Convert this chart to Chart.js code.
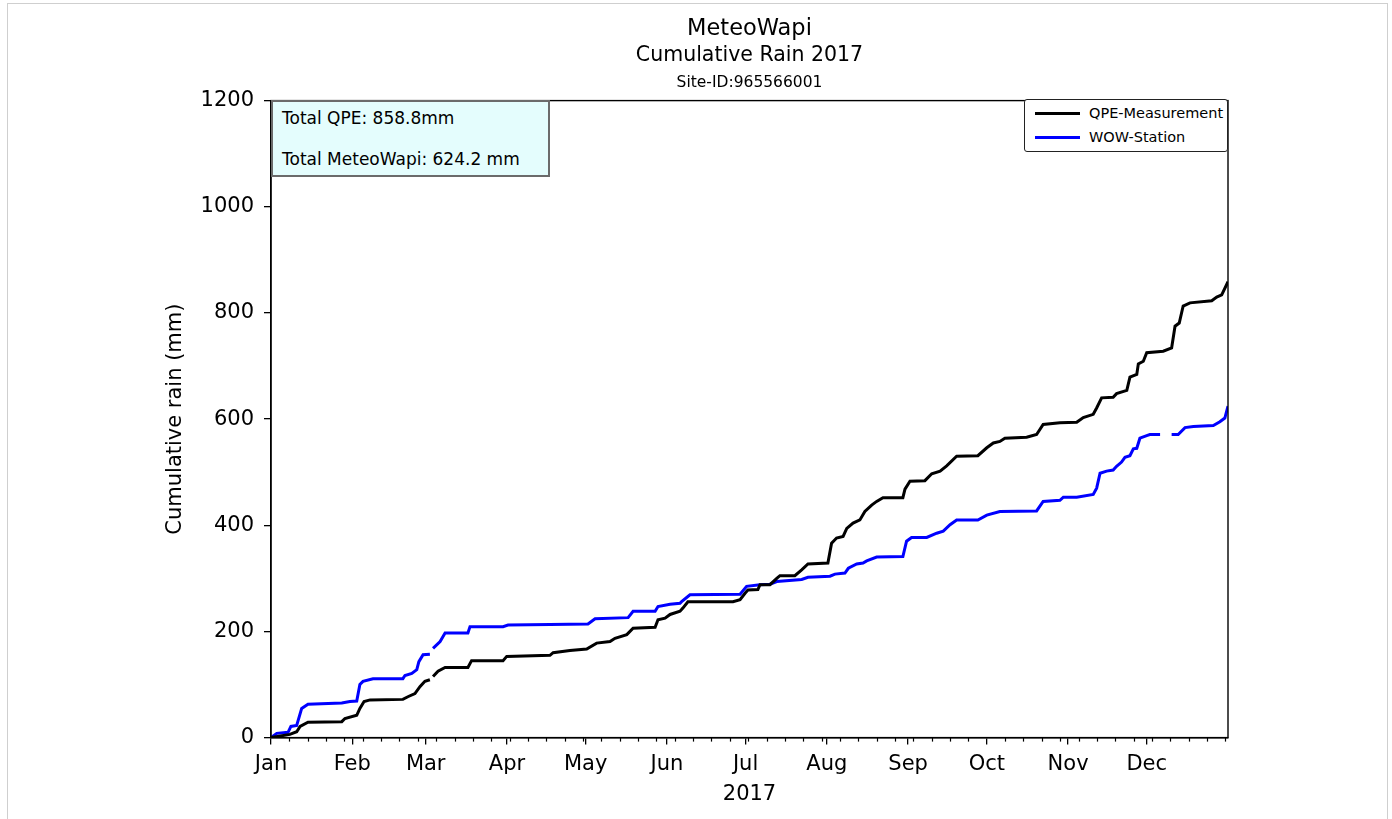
<!DOCTYPE html>
<html>
<head>
<meta charset="utf-8">
<script src="https://cdn.jsdelivr.net/npm/chart.js@4/dist/chart.umd.min.js"></script>
<style>
  html, body { margin: 0; padding: 0; background: #fff; overflow: hidden; }
  #wrap { position: relative; width: 1392px; height: 819px; font-family: "DejaVu Sans", sans-serif; }
  #frame { position: absolute; left: 7px; top: 3px; width: 1379px; height: 900px; border: 1px solid #cfcfcf; }
  #box { position: absolute; left: 271px; top: 100px; width: 275px; height: 73px; background: #e4fdfd;
         border: 2px solid #6b6b6b; font-size: 17px; color: #000; }
  #box div { position: absolute; left: 9px; white-space: nowrap; line-height: 20px; }
  #legend { position: absolute; left: 1024px; top: 99px; width: 202px; height: 51px; background: #fff;
            border: 1.5px solid #222; border-radius: 3px; font-size: 14.5px; color: #000; }
  #legend .row { position: absolute; left: 10px; height: 20px; display: flex; align-items: center; white-space: nowrap; }
  #legend .swatch { width: 45px; height: 3px; margin-right: 9px; }
  canvas { position: absolute; left: 0; top: 0; }
</style>
</head>
<body>
<div id="wrap">
  <div id="frame"></div>
  <canvas id="chart" width="1392" height="819"></canvas>
  <div id="box">
    <div style="top:6px">Total QPE: 858.8mm</div>
    <div style="top:47px">Total MeteoWapi: 624.2 mm</div>
  </div>
  <div id="legend"></div>
</div>
<script>
'use strict';

const $ = id => document.getElementById(id);

// ── 軸 ─────────────────────────────────────────────
const monthStarts = [0, 31, 59, 90, 120, 151, 181, 212, 243, 273, 304, 334];
const monthLabels = ['Jan', 'Feb', 'Mar', 'Apr', 'May', 'Jun', 'Jul', 'Aug', 'Sep', 'Oct', 'Nov', 'Dec'];
const yMax = 1200;
const yStep = 200;

// ── データ（日 = 1月1日からの経過日数） ───────────────
const qpeDay = [0, 7.2, 9.8, 11.1, 14.1, 27.0, 28.2, 32.7, 33.9, 35.5, 37.8, 50.3, 52.2, 54.9, 56.8, 58.7, 60.6,
  61.2, 61.8, 63.7, 66.4, 75.1, 76.5, 88.5, 89.9, 106.4, 107.6, 114.0, 120.4, 124.2, 129.3, 131.2, 135.7, 138.1,
  146.5, 147.6, 150.3, 152.2, 156.0, 157.1, 159.0, 176.2, 178.9, 180.8, 181.9, 185.7, 186.5, 190.3, 192.9, 194.1,
  199.8, 202.4, 204.8, 212.4, 213.8, 215.7, 218.2, 219.6, 222.0, 224.6, 226.5, 229.1, 231.0, 233.4, 241.0, 241.8,
  243.7, 249.4, 252.0, 255.2, 257.7, 261.5, 269.6, 273.0, 275.5, 278.0, 279.9, 288.2, 292.0, 294.5, 300.9, 307.3,
  309.8, 313.6, 314.9, 316.8, 321.2, 322.5, 326.4, 327.6, 330.2, 330.8, 332.7, 334.0, 340.3, 343.5, 344.8, 346.4,
  347.9, 350.5, 358.8, 360.7, 362.6, 365];
const qpeRain = [0, 6, 11, 21, 29, 30, 36, 42, 55, 68, 71, 72, 77, 83, 96, 106, 109,
  null, 115, 125, 132, 132, 145, 145, 153, 155, 160, 164, 167, 178, 181, 187, 194, 206,
  208, 222, 225, 232, 238, 244, 256, 256, 260, 272, 278, 279, 288, 288, 300, 305,
  305, 316, 327, 329, 366, 376, 379, 394, 404, 410, 426, 438, 445, 452, 452, 468,
  483, 484, 497, 502, 512, 530, 531, 546, 555, 558, 564, 566, 571, 590, 593, 594,
  603, 609, 621, 640, 641, 648, 654, 679, 684, 704, 709, 725, 728, 734, 775, 781,
  813, 819, 823, 830, 834, 858.8];

const wowDay = [0, 2.2, 6.5, 7.6, 9.8, 11.7, 14.1, 27.0, 30.1, 32.7, 33.9, 35.1, 38.9, 50.3, 51.1, 53.7, 55.6,
  56.4, 58.0, 60.6, 61.2, 61.8, 64.5, 66.4, 75.1, 75.9, 88.5, 90.4, 106.4, 120.9, 123.6, 136.2, 138.1, 146.5,
  147.6, 152.2, 156.0, 156.6, 159.8, 178.9, 181.4, 186.5, 190.3, 192.9, 202.4, 204.8, 213.2, 215.1, 218.9, 220.2,
  223.4, 225.8, 227.2, 231.0, 241.0, 242.4, 244.3, 250.1, 253.9, 256.4, 259.0, 261.5, 269.6, 273.0, 278.0, 292.0,
  294.5, 300.9, 302.2, 307.3, 313.6, 314.9, 316.2, 318.7, 321.2, 322.5, 324.4, 325.7, 327.6, 328.9, 330.2, 331.4,
  334.0, 335.2, 339.1, 341.0, 343.5, 346.0, 348.6, 351.8, 359.4, 361.9, 363.8, 365];
const wowRain = [0, 8, 10, 21, 23, 55, 63, 65, 68, 69, 100, 106, 111, 111, 117, 121, 128,
  143, 156, 157, null, 168, 181, 197, 197, 209, 209, 212, 213, 214, 224, 226, 238, 238,
  247, 251, 253, 256, 269, 270, 285, 288, 289, 294, 298, 302, 304, 308, 310, 319,
  327, 329, 333, 340, 341, 370, 377, 377, 385, 389, 401, 410, 410, 419, 426, 427,
  445, 447, 453, 453, 458, 470, 498, 502, 504, 511, 519, 528, 531, 544, 545, 564,
  569, 571, 571, null, 571, 571, 584, 586, 588, 595, 602, 624.2];

const seriesNames = ['QPE-Measurement', 'WOW-Station'];
const seriesColors = ['#000000', '#0000ff'];

const FONT = '"DejaVu Sans", sans-serif';
const toPoints = (xs, ys) => xs.map((d, i) => ({ x: d, y: ys[i] }));

// ── 補助目盛り・枠線・Site-ID ─────────────────────────
const extras = {
  id: 'extras',
  afterDraw(chart) {
    const { ctx, chartArea: a, scales } = chart;
    ctx.save();
    ctx.strokeStyle = '#000';
    ctx.lineWidth = 1.2;
    // 週ごとの補助目盛り
    for (let d = 7; d <= 365; d += 7) {
      if (monthStarts.includes(d)) continue;
      const px = Math.round(scales.x.getPixelForValue(d)) + 0.5;
      ctx.beginPath();
      ctx.moveTo(px, a.bottom);
      ctx.lineTo(px, a.bottom + 4);
      ctx.stroke();
    }
    ctx.lineWidth = 1.4;
    ctx.strokeRect(a.left, a.top, a.right - a.left, a.bottom - a.top);
    ctx.fillStyle = '#000';
    ctx.font = '15.5px ' + FONT;
    ctx.textAlign = 'center';
    ctx.textBaseline = 'middle';
    ctx.fillText('Site-ID:965566001', (a.left + a.right) / 2, a.top - 18);
    ctx.restore();
  },
};

new Chart($('chart').getContext('2d'), {
  type: 'line',
  data: {
    datasets: [
      { label: seriesNames[0], data: toPoints(qpeDay, qpeRain), borderColor: seriesColors[0],
        borderWidth: 3, pointRadius: 0, spanGaps: false, tension: 0 },
      { label: seriesNames[1], data: toPoints(wowDay, wowRain), borderColor: seriesColors[1],
        borderWidth: 3, pointRadius: 0, spanGaps: false, tension: 0 },
    ],
  },
  options: {
    responsive: false,
    animation: false,
    events: [],
    layout: { padding: { left: 163, right: 164, top: 0, bottom: 12 } },
    plugins: {
      legend: { display: false },
      tooltip: { enabled: false },
      title: {
        display: true, fullSize: false, text: 'MeteoWapi', color: '#000',
        font: { family: FONT, size: 22.5, weight: 'normal' }, padding: { top: 16, bottom: 0 },
      },
      subtitle: {
        display: true, fullSize: false, text: 'Cumulative Rain 2017', color: '#000',
        font: { family: FONT, size: 20.5, weight: 'normal' }, padding: { top: 0, bottom: 33 },
      },
    },
    scales: {
      x: {
        type: 'linear', min: 0, max: 365,
        afterBuildTicks: s => { s.ticks = monthStarts.map(v => ({ value: v })); },
        afterFit: s => { s.height -= 4; },
        ticks: {
          autoSkip: false, maxRotation: 0, color: '#000', padding: 7,
          font: { family: FONT, size: 21 },
          callback: v => monthLabels[monthStarts.indexOf(v)],
        },
        grid: { drawOnChartArea: false, drawTicks: true, tickLength: 7, color: '#000', lineWidth: 1.3 },
        border: { display: true, color: '#000', width: 1.4 },
        title: { display: true, text: '2017', color: '#000', font: { family: FONT, size: 21 }, padding: { top: 2, bottom: 0 } },
      },
      y: {
        min: 0, max: yMax,
        afterFit: s => { s.width = 108; },
        ticks: { stepSize: yStep, color: '#000', padding: 10, font: { family: FONT, size: 21 },
                 callback: v => String(v) },
        grid: { drawOnChartArea: false, drawTicks: true, tickLength: 7, color: '#000', lineWidth: 1.3 },
        border: { display: true, color: '#000', width: 1.4 },
        title: { display: true, text: 'Cumulative rain (mm)', color: '#000', font: { family: FONT, size: 21 }, padding: 0 },
      },
    },
  },
  plugins: [extras],
});

// ── 凡例 ───────────────────────────────────────────
$('legend').innerHTML = seriesNames.map((n, i) =>
  `<div class="row" style="top:${3 + i * 24}px"><span class="swatch" style="background:${seriesColors[i]}"></span>${n}</div>`
).join('');
</script>
</body>
</html>
